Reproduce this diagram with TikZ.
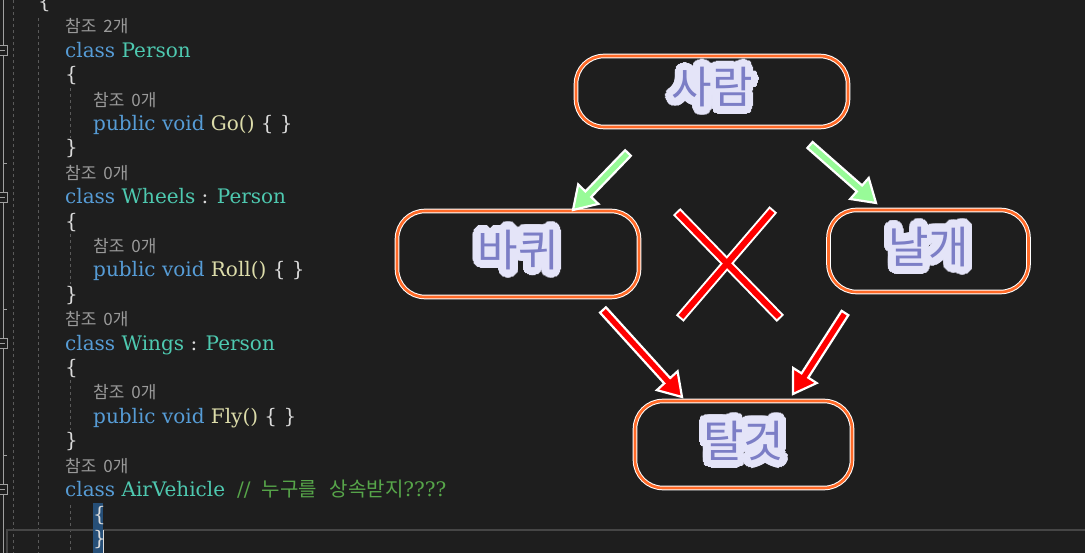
\documentclass[tikz,border=0pt]{standalone}
\usepackage{fontspec}
\setmainfont{DejaVu Serif}
\newfontfamily\kr{Noto Sans CJK KR}
\usepackage{contour}
\contourlength{8pt}
\contournumber{36}
\usetikzlibrary{calc}
\definecolor{bg}{HTML}{1E1E1E}
\definecolor{kw}{HTML}{569CD6}
\definecolor{ty}{HTML}{4EC9B0}
\definecolor{fn}{HTML}{DCDCAA}
\definecolor{pn}{HTML}{DCDCDC}
\definecolor{cm}{HTML}{57A64A}
\definecolor{rf}{HTML}{9A9A9A}
\definecolor{guidegray}{HTML}{5A5A5A}
\definecolor{foldgray}{HTML}{A0A0A0}
\definecolor{sel}{HTML}{264F78}
\definecolor{boxorange}{HTML}{FF6A28}
\definecolor{glyph}{HTML}{7C7EC6}
\definecolor{lav}{HTML}{E4E4F8}
\definecolor{okgreen}{HTML}{98FB98}
\definecolor{nored}{HTML}{FF0000}
% thick arrow with a white rim: start, tip, colour
\newcommand\fatarrow[3]{%
  \coordinate (hb) at ($(#2)!22pt!(#1)$);
  \filldraw[fill=#3, draw=white, line width=2.2pt, line join=miter]
    ($(#1)!4pt!90:(#2)$) -- ($(hb)!4pt!90:(#2)$) -- ($(hb)!14pt!90:(#2)$) -- (#2)
    -- ($(hb)!14pt!-90:(#2)$) -- ($(hb)!4pt!-90:(#2)$) -- ($(#1)!4pt!-90:(#2)$) -- cycle;
}
\newcommand\refcount[1]{참조\hspace{7pt}#1개}
\begin{document}
\begin{tikzpicture}[x=1pt,y=-1pt,
  code/.style={anchor=base west, inner sep=0pt, font=\fontsize{20}{22}\selectfont},
  refs/.style={anchor=base west, inner sep=0pt, text=rf, font=\kr\fontsize{17}{18}\selectfont},
  tag/.style={rectangle, rounded corners=28pt, draw=white, double=boxorange,
    double distance=2.6pt, line width=1pt, fill=bg, text=glyph,
    font=\kr\fontsize{44}{48}\selectfont},
  guide/.style={draw=guidegray, line width=0.8pt, dash pattern=on 3pt off 3pt}]
  \useasboundingbox (0,0) rectangle (1085,553);
  \fill[bg] (0,0) rectangle (1085,553);

  % editor margin
  \draw[foldgray, line width=0.8pt] (3,0) -- (3,553);
  \foreach \y in {163,309,455} \draw[foldgray, line width=0.8pt] (3,\y) -- (7,\y);
  \foreach \y in {50,197,343,489} {
    \draw[foldgray, fill=bg, line width=0.8pt] (-3,\y-5) rectangle (7,\y+5);
    \draw[foldgray, line width=0.8pt] (0,\y) -- (5,\y);
  }
  \draw[guide] (13,0) -- (13,553);
  \draw[guide] (38,18) -- (38,553);
  \draw[guide] (70,88) -- (70,138);
  \draw[guide] (70,234) -- (70,284);
  \draw[guide] (70,380) -- (70,430);
  \draw[guide] (70,505) -- (70,553);
  \draw[draw={rgb,255:red,70;green,70;blue,70}, line width=1.5pt] (7,530) rectangle (1090,560);
  \fill[sel] (93,503) rectangle (103,553);
  \draw[pn, line width=1pt] (103.5,530) -- (103.5,553);

  % code
  \node[code, text=pn] (top) at (38,8.6) {\{};
  \node[refs] (ref0) at (65,33) {\refcount{2}};
  \node[code] (cperson) at (65,57.4) {\textcolor{kw}{class} \textcolor{ty}{Person}};
  \node[code, text=pn] (ob1) at (65,81.8) {\{};
  \node[refs] (ref1) at (93,106.2) {\refcount{0}};
  \node[code] (mgo) at (93,130.6) {\textcolor{kw}{public void} \textcolor{fn}{Go()} \textcolor{pn}{\{ \}}};
  \node[code, text=pn] (cb1) at (65,155) {\}};
  \node[refs] (ref2) at (65,179.4) {\refcount{0}};
  \node[code] (cwheels) at (65,203.8) {\textcolor{kw}{class} \textcolor{ty}{Wheels} \textcolor{pn}{:} \textcolor{ty}{Person}};
  \node[code, text=pn] (ob2) at (65,228.2) {\{};
  \node[refs] (ref3) at (93,252.6) {\refcount{0}};
  \node[code] (mroll) at (93,277) {\textcolor{kw}{public void} \textcolor{fn}{Roll()} \textcolor{pn}{\{ \}}};
  \node[code, text=pn] (cb2) at (65,301.4) {\}};
  \node[refs] (ref4) at (65,325.8) {\refcount{0}};
  \node[code] (cwings) at (65,350.2) {\textcolor{kw}{class} \textcolor{ty}{Wings} \textcolor{pn}{:} \textcolor{ty}{Person}};
  \node[code, text=pn] (ob3) at (65,374.6) {\{};
  \node[refs] (ref5) at (93,399) {\refcount{0}};
  \node[code] (mfly) at (93,423.4) {\textcolor{kw}{public void} \textcolor{fn}{Fly()} \textcolor{pn}{\{ \}}};
  \node[code, text=pn] (cb3) at (65,447.8) {\}};
  \node[refs] (ref6) at (65,472.2) {\refcount{0}};
  \node[code] (cair) at (65,496.6) {\textcolor{kw}{class} \textcolor{ty}{AirVehicle}\hspace{12pt}\textcolor{cm}{//\hspace{11pt}{\kr\fontsize{20}{22}\selectfont 누구를\hspace{13pt}상속받지}????}};
  \node[code, text=pn] (ob4) at (93,521) {\{};
  \node[code, text=pn] (cb4) at (93,545.4) {\}};

  % diagram
  \node[tag, minimum width=272pt, minimum height=71pt] (saram) at (712,91.5) {\contour{lav}{사람}};
  \node[tag, minimum width=242pt, minimum height=86pt] (bakwi) at (518,254) {\contour{lav}{바퀴}};
  \node[tag, minimum width=200pt, minimum height=82pt] (nalgae) at (928.5,251) {\contour{lav}{날개}};
  \node[tag, minimum width=217pt, minimum height=87pt] (talgeot) at (743.5,444.5) {\contour{lav}{탈것}};

  \coordinate (g1s) at (628,153);
  \coordinate (g1e) at (573,210);
  \coordinate (g2s) at (810,145);
  \coordinate (g2e) at (876,203);
  \coordinate (r1s) at (603,310);
  \coordinate (r1e) at (682,397);
  \coordinate (r2s) at (845,313);
  \coordinate (r2e) at (793,394);
  \fatarrow{g1s}{g1e}{okgreen}
  \fatarrow{g2s}{g2e}{okgreen}
  \fatarrow{r1s}{r1e}{nored}
  \fatarrow{r2s}{r2e}{nored}

  \coordinate (xa) at (678,213);
  \coordinate (xb) at (779,317);
  \coordinate (xc) at (772,211);
  \coordinate (xd) at (681,317);
  \draw[white, line width=10pt, shorten <=-2pt, shorten >=-2pt] (xa) -- (xb);
  \draw[white, line width=10pt, shorten <=-2pt, shorten >=-2pt] (xc) -- (xd);
  \draw[nored, line width=6pt] (xa) -- (xb);
  \draw[nored, line width=6pt] (xc) -- (xd);
\end{tikzpicture}
\end{document}
